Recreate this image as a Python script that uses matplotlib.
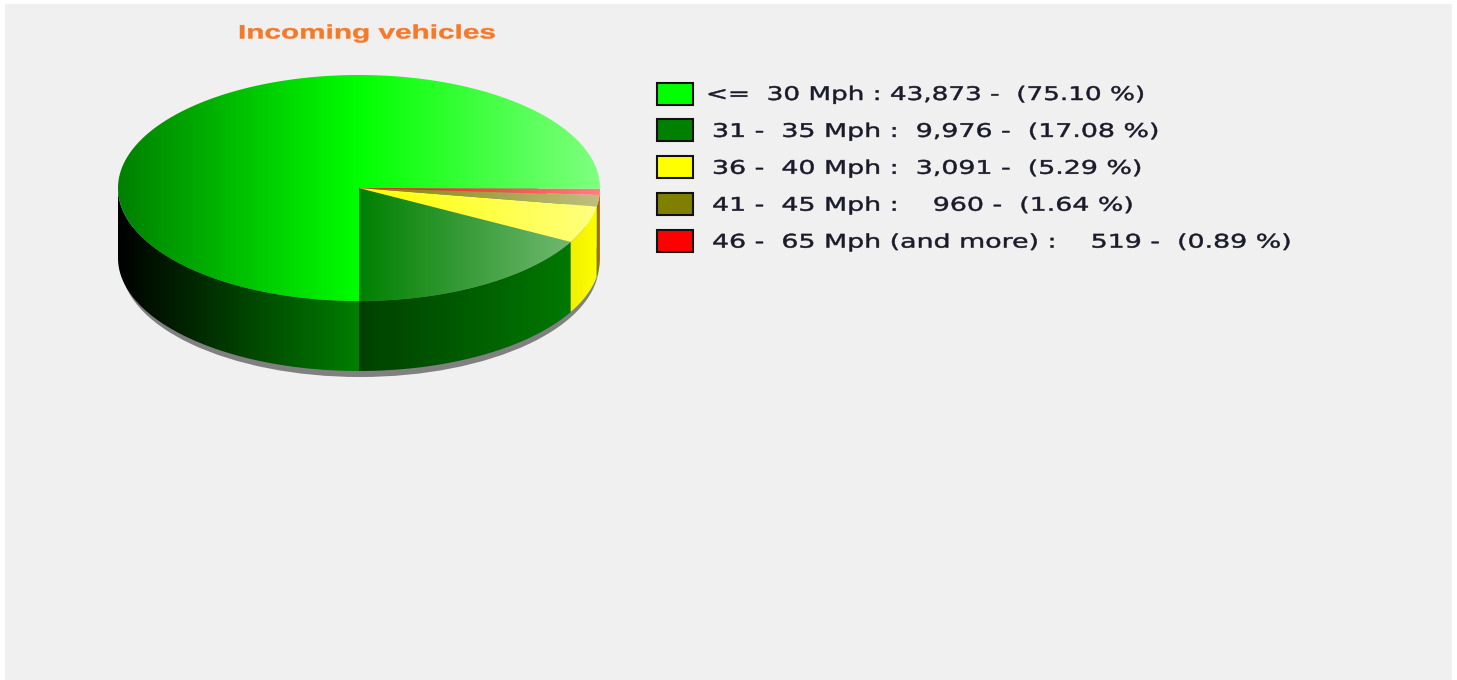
import numpy as np
import matplotlib
matplotlib.use("Agg")
import matplotlib.pyplot as plt
from matplotlib.patches import Polygon, Rectangle, Ellipse
from matplotlib.patheffects import AbstractPathEffect
from matplotlib.transforms import Affine2D

title = "Incoming vehicles"
labels = ["<=  30 Mph", "31 -  35 Mph", "36 -  40 Mph", "41 -  45 Mph", "46 -  65 Mph (and more)"]
counts = [43873, 9976, 3091, 960, 519]
percents = [75.10, 17.08, 5.29, 1.64, 0.89]
colors = ["#00FF00", "#008000", "#FFFF00", "#808000", "#FF0000"]
legend_text = [
    "<=  30 Mph : 43,873 -  (75.10 %)",
    "31 -  35 Mph :  9,976 -  (17.08 %)",
    "36 -  40 Mph :  3,091 -  (5.29 %)",
    "41 -  45 Mph :    960 -  (1.64 %)",
    "46 -  65 Mph (and more) :    519 -  (0.89 %)",
]


class StretchX(AbstractPathEffect):
    """Draw real text wider than the font, as in the horizontally stretched source."""

    def __init__(self, sx, stroke=0.0):
        super().__init__()
        self.sx = sx
        self.stroke = stroke

    def draw_path(self, renderer, gc, tpath, affine, rgbFace=None):
        gc0 = renderer.new_gc()
        gc0.copy_properties(gc)
        if self.stroke and rgbFace is not None:
            gc0.set_foreground(rgbFace)
            gc0.set_linewidth(self.stroke)
        renderer.draw_path(gc0, tpath, Affine2D().scale(self.sx, 1) + affine, rgbFace)
        gc0.restore()


W, H = 1457, 680
cx, cy, rx, ry, depth = 359, 188, 241, 113, 70
fig = plt.figure(figsize=(W / 100, H / 100), dpi=100, facecolor="white")
ax = fig.add_axes([0, 0, 1, 1])
ax.axis("off")
ax.add_patch(Rectangle((5, 4), 1447, 676, fc="#F0F0F0", ec="none", zorder=0))

# shadow
ax.add_patch(Ellipse((cx + 1, cy + depth + 6), 2 * rx - 4, 2 * ry, fc="#808080", ec="none", zorder=1))


def pt(th, dy=0.0):
    return np.c_[cx + rx * np.cos(th), cy - ry * np.sin(th) + dy]


def rgb(c):
    return np.array(matplotlib.colors.to_rgb(c))


xs = np.linspace(cx - rx, cx + rx, 482)
t = (xs - xs[0]) / (xs[-1] - xs[0])


def gradient_image(poly, arr, z):
    im = ax.imshow(arr[None, :, :], extent=(xs[0], xs[-1], cy + ry + depth + 2, cy - ry - 2),
                   aspect="auto", interpolation="bilinear", zorder=z)
    p = Polygon(poly, closed=True, transform=ax.transData, fc="none", ec="none")
    ax.add_patch(p)
    im.set_clip_path(p)


# wedges run counter-clockwise from straight down, green last
order = [1, 2, 3, 4, 0]
total = sum(counts)
a = np.deg2rad(270.0)
for i in order:
    b = a + counts[i] / total * 2 * np.pi
    base = rgb(colors[i])
    # side wall
    for k in range(0, 3):
        lo, hi = max(a, np.pi + 2 * np.pi * k - 2 * np.pi), min(b, 2 * np.pi + 2 * np.pi * k - 2 * np.pi)
        if hi > lo:
            th = np.linspace(lo, hi, 200)
            poly = np.vstack([pt(th), pt(th[::-1], depth)])
            gradient_image(poly, base[None, :] * t[:, None], 2)
    # top face
    th = np.linspace(a, b, 400)
    poly = np.vstack([[cx, cy], pt(th)])
    left = base * (0.5 + t[:, None])
    right = base + (1 - base) * (t[:, None] - 0.5)
    arr = np.where(t[:, None] < 0.5, left, right)
    gradient_image(poly, np.clip(arr, 0, 1), 3)
    a = b

# title
ax.text(238, 34, title, color="#F47A2A", fontsize=14, fontweight="bold",
        family="Liberation Sans", ha="left", va="center", zorder=5,
        path_effects=[StretchX(1.53, 0.3)])

# legend
box_y = 93.5
step = 36.9
for i, s in enumerate(legend_text):
    y = box_y + i * step
    ax.add_patch(Rectangle((657, y - 11), 36, 22, fc=colors[i], ec="#111111", lw=1.5, zorder=5))
    ax.text(706 if i == 0 else 712, y + 1, s, color="#1A1A2A", fontsize=13.5,
            family="DejaVu Sans", ha="left", va="center", zorder=5,
            path_effects=[StretchX(1.40 if i == 0 else 1.43, 0.35)])

ax.set_xlim(0, W)
ax.set_ylim(H, 0)
fig.savefig("out.png", dpi=100, facecolor="white")
